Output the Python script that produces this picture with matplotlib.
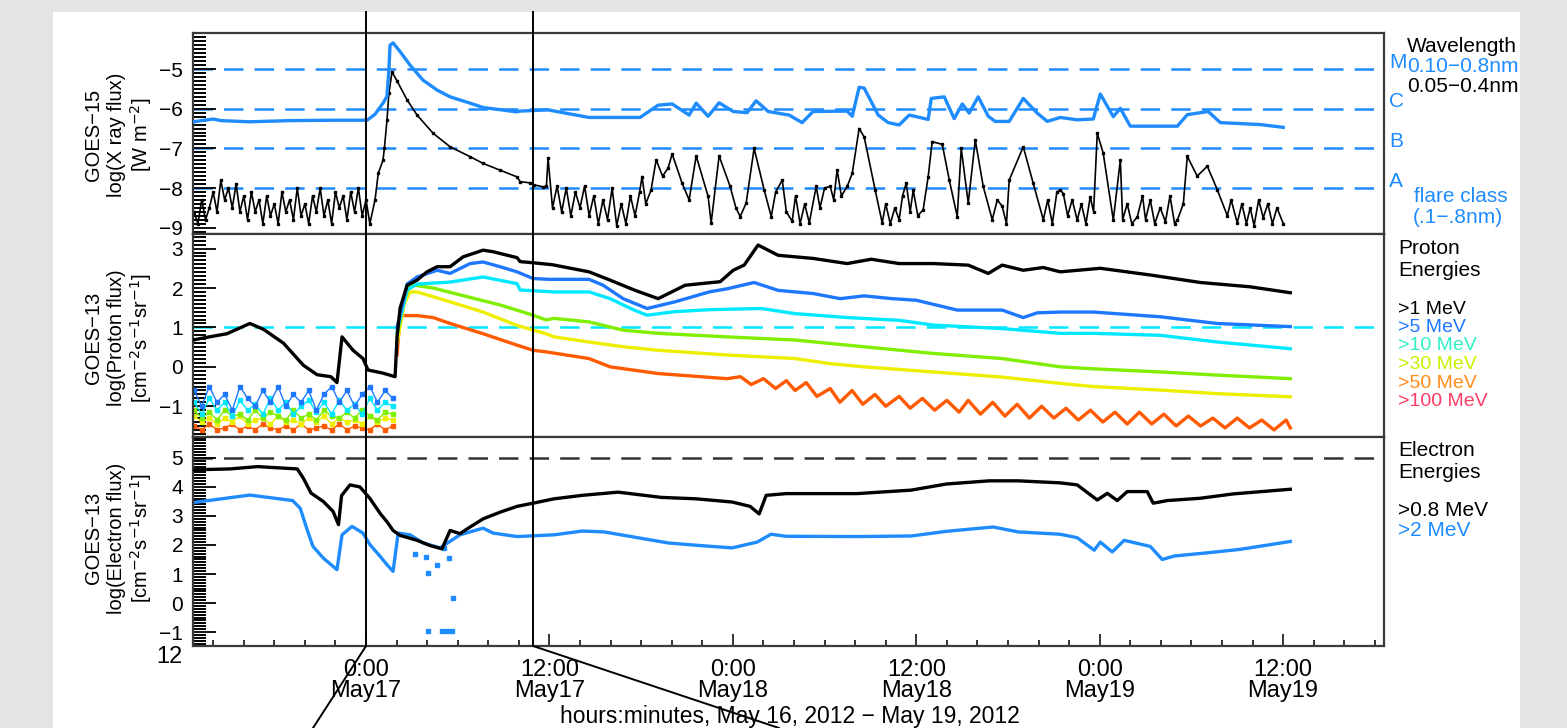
import matplotlib
matplotlib.use('Agg')
import matplotlib.pyplot as plt
from matplotlib.lines import Line2D
from matplotlib.patches import Rectangle
import matplotlib.transforms as mtransforms
from matplotlib.ticker import MultipleLocator, FixedLocator

plt.rcParams['font.family'] = ['Liberation Sans', 'DejaVu Sans']
plt.rcParams['lines.scale_dashes'] = False
plt.rcParams['axes.unicode_minus'] = True

# ---------------- data (time = hours since 2012-05-17 00:00 UT) ----------------
xray_long_t = [-11.32, -10.0, -9.5, -7.6, -5.0, -2.0, 0.07, 0.59, 1.11, 1.37, 1.5, 1.57, 1.77, 2.23, 2.88,
               3.73, 4.65, 5.50, 6.81, 7.66, 9.88, 10.08, 11.91, 14.59, 17.93, 19.11, 20.03, 21.14, 21.60,
               22.38, 23.10, 24.02, 24.93, 25.52, 26.31, 27.68, 28.53, 29.25, 31.48, 31.81, 32.26, 32.59,
               33.51, 34.16, 34.88, 35.54, 36.78, 36.98, 37.83, 38.48, 39.01, 39.46, 40.05, 40.71, 41.16,
               42.08, 43.00, 43.91, 44.57, 45.42, 46.53, 47.58, 48.04, 48.89, 49.35, 50.0, 53.08, 53.73,
               55.10, 55.89, 58.51, 60.01]
xray_long_v = [-6.33, -6.26, -6.30, -6.33, -6.30, -6.29, -6.29, -6.14, -5.86, -5.69, -5.00, -4.40, -4.34, -4.56,
               -4.90, -5.28, -5.53, -5.70, -5.86, -5.97, -6.08, -6.06, -6.03, -6.22, -6.22, -5.91, -5.88, -6.16,
               -5.86, -6.19, -5.85, -6.07, -6.10, -5.80, -6.07, -6.16, -6.35, -6.07, -6.06, -6.19, -5.46, -5.48,
               -6.16, -6.35, -6.41, -6.16, -6.27, -5.74, -5.70, -6.25, -5.88, -6.11, -5.70, -6.19, -6.32, -6.32,
               -5.74, -6.11, -6.32, -6.22, -6.28, -6.26, -5.63, -6.20, -5.99, -6.44, -6.44, -6.15, -6.07, -6.35,
               -6.40, -6.47]

xray_short_t = [-11.25, -11.0, -10.75, -10.5, -10.25, -10.0, -9.75, -9.5, -9.25, -9.0, -8.75, -8.5, -8.25,
                -8.0, -7.75, -7.5, -7.25, -7.0, -6.75, -6.5, -6.25, -6.0, -5.75, -5.5, -5.25, -5.0, -4.75,
                -4.5, -4.25, -4.0, -3.75, -3.5, -3.25, -3.0, -2.75, -2.5, -2.25, -2.0, -1.75, -1.5, -1.25,
                -1.0, -0.75, -0.5, -0.25, 0.0, 0.25,
                0.59, 0.8, 1.11, 1.2, 1.37, 1.5, 1.70, 2.03, 2.69, 3.34, 4.39, 5.50, 6.81, 7.66, 8.77, 9.88,
                10.08, 10.73, 10.99, 11.58, 11.8, 11.91, 12.2, 12.5, 12.8, 13.1, 13.4, 13.7, 14.0, 14.3, 14.6,
                14.9, 15.2, 15.5, 15.8, 16.1, 16.4, 16.7, 17.0, 17.3, 17.6, 17.9, 18.06, 18.3, 18.65, 18.98,
                19.4, 19.76, 20.03, 20.68, 21.14, 21.60, 22.38, 22.58, 23.10, 23.82, 24.2, 24.48, 24.87,
                25.39, 26.05, 26.51, 26.8, 27.23, 27.5, 27.88, 28.1, 28.4, 28.7, 29.0, 29.45, 29.7, 30.0,
                30.37, 30.6, 30.82, 31.1, 31.48, 31.81, 32.26, 32.59, 33.31, 33.77, 34.0, 34.3, 34.6, 34.88,
                35.1, 35.34, 35.6, 35.80, 36.1, 36.45, 36.78, 37.04, 37.70, 38.16, 38.68, 38.94, 39.40,
                39.86, 40.38, 40.97, 41.3, 41.62, 41.9, 42.08, 43.00, 43.65, 44.31, 44.6, 44.9, 45.2, 45.42,
                45.62, 45.9, 46.2, 46.53, 46.8, 47.1, 47.38, 47.6, 47.84, 48.23, 48.89, 49.35, 49.5, 49.8,
                50.1, 50.46, 50.8, 51.0, 51.31, 51.6, 51.96, 52.3, 52.6, 52.9, 53.08, 53.47, 53.73, 54.38,
                55.04, 55.69, 56.35, 56.6, 57.0, 57.3, 57.6, 57.85, 58.1, 58.4, 58.70, 59.0, 59.3, 59.6,
                60.01]
xray_short_v = [-8.6, -8.9, -8.3, -8.8, -8.5, -8.1, -8.6, -7.8, -8.3, -8.0, -8.5, -7.9, -8.6,
                -8.2, -8.8, -8.1, -8.6, -8.3, -8.9, -8.2, -8.7, -8.4, -8.9, -8.1, -8.6, -8.3, -8.8,
                -8.0, -8.7, -8.4, -8.9, -8.2, -8.6, -8.0, -8.7, -8.3, -8.9, -8.1, -8.5, -8.2, -8.8,
                -8.1, -8.6, -8.0, -8.7, -8.3, -8.9,
                -8.3, -7.63, -7.3, -7.0, -6.29, -5.6, -5.07, -5.3, -5.78, -6.16, -6.62, -6.96, -7.21, -7.38,
                -7.55, -7.72, -7.84, -7.87, -7.92, -7.97, -7.96, -7.25, -8.5, -7.95, -8.6, -8.0, -8.7, -8.1,
                -8.5, -7.95, -8.7, -8.2, -8.9, -8.3, -8.8, -8.0, -8.95, -8.4, -8.9, -8.2, -8.7, -8.1, -7.71,
                -8.4, -8.05, -7.29, -7.7, -7.5, -7.14, -7.88, -8.3, -7.19, -8.21, -8.88, -7.19, -7.96, -8.5,
                -8.72, -8.38, -7.0, -8.05, -8.72, -8.1, -7.8, -8.6, -8.84, -8.2, -8.9, -8.4, -8.88, -7.96,
                -8.5, -8.0, -7.96, -8.3, -7.54, -8.2, -7.96, -7.63, -6.5, -6.71, -8.05, -8.88, -8.4, -8.9,
                -8.5, -8.8, -8.2, -7.88, -8.6, -8.05, -8.7, -8.55, -7.71, -6.83, -6.9, -7.8, -8.72, -7.0,
                -8.38, -6.79, -7.96, -8.8, -8.3, -8.46, -8.9, -7.8, -6.96, -7.88, -8.8, -8.3, -8.9, -8.1,
                -8.05, -8.14, -8.7, -8.3, -8.81, -8.4, -8.9, -8.22, -8.6, -6.62, -7.12, -8.81, -7.29, -8.8,
                -8.4, -8.9, -8.73, -8.2, -8.8, -8.3, -8.9, -8.5, -8.85, -8.2, -8.9, -8.81, -8.4, -7.2, -7.7,
                -7.45, -8.04, -8.7, -8.3, -8.88, -8.4, -8.9, -8.5, -8.95, -8.3, -8.75, -8.4, -8.9, -8.5,
                -8.9]

p_pre_t = [-11.25, -10.75, -10.25, -9.75, -9.25, -8.75, -8.25, -7.75, -7.25, -6.75, -6.25, -5.75, -5.25,
           -4.75, -4.25, -3.75, -3.25, -2.75, -2.25, -1.75, -1.25, -0.75, -0.25, 0.25, 0.75, 1.25, 1.75]
p5_pre = [-0.6, -1.0, -0.5, -0.9, -0.7, -1.1, -0.5, -0.8, -1.0, -0.6, -0.9, -0.5, -1.0, -0.7, -0.9, -0.6,
          -1.1, -0.7, -0.5, -0.9, -0.6, -1.0, -0.7, -0.5, -0.9, -0.6, -0.8]
p10_pre = [-0.9, -1.2, -0.8, -1.1, -0.9, -1.25, -0.85, -1.1, -0.95, -1.2, -0.8, -1.1, -0.9, -1.2, -1.0,
           -0.85, -1.15, -0.9, -1.2, -0.85, -1.1, -0.95, -1.2, -0.8, -1.1, -0.9, -1.0]
p30_pre = [-1.1, -1.3, -1.15, -1.35, -1.1, -1.25, -1.2, -1.35, -1.1, -1.3, -1.15, -1.25, -1.35, -1.1,
           -1.3, -1.2, -1.35, -1.1, -1.25, -1.3, -1.15, -1.3, -1.1, -1.25, -1.35, -1.15, -1.2]
p50_pre = [-1.25, -1.4, -1.3, -1.45, -1.3, -1.4, -1.25, -1.45, -1.35, -1.3, -1.45, -1.25, -1.4, -1.35,
           -1.45, -1.3, -1.4, -1.25, -1.45, -1.3, -1.4, -1.35, -1.45, -1.25, -1.4, -1.3, -1.35]
p100_pre = [-1.5, -1.6, -1.45, -1.6, -1.55, -1.45, -1.6, -1.5, -1.6, -1.45, -1.55, -1.6, -1.5, -1.6,
            -1.45, -1.6, -1.55, -1.5, -1.6, -1.45, -1.6, -1.5, -1.55, -1.6, -1.45, -1.6, -1.5]

p1_t = [-11.32, -10.4, -9.1, -7.6, -6.7, -5.4, -4.1, -3.2, -2.3, -1.9, -1.57, -0.85, -0.2, 0.13, 1.11,
        1.90, 2.03, 2.23, 2.69, 3.34, 3.99, 4.65, 5.50, 6.35, 7.66, 8.31, 9.88, 10.08, 10.93, 12.2, 14.59,
        15.97, 17.54, 19.11, 20.88, 23.17, 24.02, 24.74, 25.65, 26.96, 29.25, 31.48, 33.05, 34.88, 37.11,
        39.40, 40.71, 41.62, 43.0, 44.3, 45.42, 48.04, 51.31, 54.58, 57.85, 60.47]
p1_v = [0.68, 0.75, 0.84, 1.10, 0.95, 0.60, 0.04, -0.20, -0.25, -0.40, 0.76, 0.42, 0.21, -0.08, -0.16,
        -0.25, 0.76, 1.49, 2.07, 2.20, 2.41, 2.54, 2.54, 2.79, 2.96, 2.92, 2.77, 2.67, 2.64, 2.59, 2.41,
        2.20, 1.95, 1.73, 2.07, 2.16, 2.45, 2.58, 3.09, 2.83, 2.75, 2.62, 2.73, 2.62, 2.62, 2.58, 2.37,
        2.58, 2.45, 2.52, 2.41, 2.50, 2.33, 2.14, 2.03, 1.88]

p5_t = [2.03, 2.69, 3.34, 4.65, 5.50, 6.81, 7.66, 8.77, 9.88, 10.93, 12.0, 14.59, 15.51, 16.82, 18.39,
        20.22, 22.45, 23.62, 25.39, 26.96, 29.25, 31.02, 32.59, 34.42, 35.99, 38.68, 41.62, 43.0, 43.91,
        45.42, 47.58, 51.96, 55.69, 60.47]
p5_v = [1.0, 2.1, 2.28, 2.45, 2.37, 2.62, 2.66, 2.54, 2.41, 2.24, 2.22, 2.22, 2.07, 1.73, 1.48, 1.65,
        1.90, 1.98, 2.14, 1.94, 1.86, 1.73, 1.80, 1.73, 1.69, 1.44, 1.44, 1.25, 1.37, 1.39, 1.39, 1.27,
        1.10, 1.02]

p10_t = [2.03, 2.69, 3.34, 5.50, 7.66, 9.88, 10.08, 12.3, 14.59, 15.97, 17.54, 18.39, 20.22, 22.45, 25.85,
         28.07, 31.48, 34.88, 37.11, 41.62, 45.42, 47.58, 51.96, 55.69, 60.47]
p10_v = [0.9, 1.95, 2.10, 2.15, 2.28, 2.11, 1.95, 1.90, 1.90, 1.73, 1.44, 1.31, 1.40, 1.45, 1.48, 1.35,
         1.25, 1.18, 1.06, 0.97, 0.85, 0.85, 0.80, 0.63, 0.46]

p30_t = [2.03, 2.5, 2.88, 3.34, 4.39, 6.61, 8.77, 10.93, 11.78, 12.3, 14.59, 16.82, 19.11, 23.62, 28.07,
         31.48, 37.11, 41.62, 45.42, 47.58, 51.96, 55.69, 60.47]
p30_v = [0.8, 1.7, 2.1, 2.06, 2.0, 1.78, 1.57, 1.31, 1.19, 1.23, 1.14, 0.93, 0.85, 0.76, 0.68, 0.55, 0.34,
         0.21, 0.0, -0.05, -0.13, -0.21, -0.30]

p50_t = [2.03, 2.5, 2.88, 3.34, 5.50, 7.66, 9.88, 11.78, 12.3, 14.59, 16.82, 19.11, 23.62, 28.07, 30.37,
         32.59, 37.11, 41.62, 45.42, 47.58, 51.96, 55.69, 60.47]
p50_v = [0.6, 1.6, 1.9, 1.9, 1.65, 1.39, 1.05, 0.84, 0.76, 0.63, 0.51, 0.42, 0.30, 0.21, 0.08, 0.0, -0.13,
         -0.26, -0.42, -0.50, -0.59, -0.68, -0.76]

p100_t = [2.03, 2.23, 3.34, 4.39, 5.50, 7.66, 9.88, 10.93, 11.78, 14.59, 15.97, 19.11, 23.62, 24.5, 25.2,
          26.0, 26.8, 27.5, 28.07, 28.8, 29.5, 30.37, 31.0, 31.8, 32.5, 33.3, 34.0, 34.88, 35.6, 36.4, 37.2,
          38.0, 38.8, 39.4, 40.2, 41.0, 41.8, 42.6, 43.4, 44.2, 45.0, 45.8, 46.6, 47.4, 48.2, 49.0, 49.8,
          50.6, 51.4, 52.2, 53.0, 53.8, 54.6, 55.4, 56.2, 57.0, 57.8, 58.6, 59.4, 60.2, 60.47]
p100_v = [0.3, 1.3, 1.3, 1.25, 1.1, 0.84, 0.55, 0.42, 0.38, 0.21, 0.0, -0.17, -0.30, -0.25, -0.45, -0.3,
          -0.55, -0.35, -0.6, -0.4, -0.75, -0.55, -0.9, -0.6, -0.95, -0.7, -1.0, -0.75, -1.05, -0.8, -1.1,
          -0.85, -1.15, -0.85, -1.2, -0.9, -1.25, -0.95, -1.3, -1.0, -1.3, -1.05, -1.35, -1.1, -1.4, -1.15,
          -1.45, -1.15, -1.45, -1.2, -1.5, -1.25, -1.5, -1.3, -1.55, -1.3, -1.55, -1.35, -1.6, -1.35, -1.55]

e08_t = [-11.32, -8.9, -7.1, -4.5, -4.1, -3.6, -2.8, -2.16, -1.8, -1.6, -1.05, -0.4, 0.26, 0.92, 1.37, 1.77,
         2.23, 3.34, 4.19, 4.97, 5.50, 6.15, 6.81, 7.66, 8.77, 9.88, 10.93, 12.3, 14.14, 16.49, 19.31, 21.6,
         23.95, 25.13, 25.72, 26.18, 27.49, 32.13, 35.67, 37.96, 40.77, 42.67, 45.42, 46.53, 47.84, 48.5,
         49.15, 49.80, 51.11, 51.5, 52.42, 54.58, 56.74, 60.47]
e08_v = [4.59, 4.62, 4.70, 4.62, 4.30, 3.79, 3.50, 3.16, 2.70, 3.70, 4.07, 4.00, 3.60, 3.09, 2.80, 2.50,
         2.33, 2.16, 1.98, 1.87, 2.50, 2.39, 2.62, 2.90, 3.13, 3.33, 3.44, 3.59, 3.71, 3.82, 3.64, 3.59,
         3.48, 3.33, 3.07, 3.71, 3.77, 3.77, 3.89, 4.10, 4.21, 4.21, 4.14, 4.07, 3.55, 3.78, 3.53, 3.84,
         3.84, 3.44, 3.53, 3.61, 3.76, 3.92]

e2_t = [-11.32, -7.6, -4.8, -4.3, -3.85, -3.47, -2.8, -1.9, -1.57, -0.92, -0.2, 0.26, 0.92, 1.37, 1.77, 2.1,
        2.88, 3.73, 4.84, 6.15, 7.66, 8.31, 9.88, 12.3, 14.14, 15.58, 17.67, 19.77, 21.86, 23.95, 25.59,
        26.5, 27.49, 32.13, 35.67, 37.96, 41.03, 42.67, 45.42, 46.53, 47.64, 48.04, 48.82, 49.6, 51.31,
        52.09, 52.88, 55.04, 57.2, 60.47]
e2_v = [3.46, 3.72, 3.53, 3.26, 2.52, 1.95, 1.55, 1.15, 2.35, 2.64, 2.41, 2.01, 1.61, 1.32, 1.09, 2.41,
        2.35, 2.07, 1.90, 2.35, 2.58, 2.41, 2.29, 2.35, 2.48, 2.45, 2.26, 2.07, 1.98, 1.90, 2.10, 2.37,
        2.30, 2.29, 2.31, 2.47, 2.62, 2.45, 2.37, 2.25, 1.82, 2.10, 1.76, 2.16, 1.95, 1.50, 1.62, 1.73,
        1.85, 2.12]
e2_dots_t = [3.9, 4.06, 4.65, 5.1, 5.7, 4.06, 5.0, 5.3, 5.6, 3.2, 5.4]
e2_dots_v = [1.6, 1.03, 1.31, 1.9, 0.17, -0.95, -0.95, -0.95, -0.95, 1.7, 1.55]

flare_levels = [-5, -6, -7, -8]
flare_classes = ['M', 'C', 'B', 'A']
proton_labels = ['>1 MeV', '>5 MeV', '>10 MeV', '>30 MeV', '>50 MeV', '>100 MeV']
electron_labels = ['>0.8 MeV', '>2 MeV']
xtick_pos = [0, 12, 24, 36, 48, 60]
xtick_labels = ['0:00\nMay17', '12:00\nMay17', '0:00\nMay18', '12:00\nMay18', '0:00\nMay19', '12:00\nMay19']
marker_times = [0.0, 10.93]

# ---------------- styling ----------------
W, H = 1567, 728
XLIM = (-11.32, 66.6)
C_XB = '#1e8cff'
C_P = ['black', '#1e78ff', '#00e8ff', '#80ee00', '#eeee00', '#ff5a00']
C_PLEG = ['black', '#1e78ff', '#30f0c8', '#c8f000', '#ff8c1a', '#ff3c64']
FS_TICK = 15
FS_LEG = 15

fig = plt.figure(figsize=(W / 100, H / 100), dpi=100)
fig.patch.set_facecolor('#e4e4e4')
fig.add_artist(Rectangle((53 / W, 0), (1520 - 53) / W, (728 - 12) / H, transform=fig.transFigure,
                         facecolor='white', edgecolor='none', zorder=-10))


def px_axes(top, bottom):
    return fig.add_axes([193 / W, 1 - bottom / H, (1384 - 193) / W, (bottom - top) / H])


ax1 = px_axes(33, 234)
ax2 = px_axes(234, 437)
ax3 = px_axes(437, 646)

for ax, yl in ((ax1, (-9.16, -4.09)), (ax2, (-1.78, 3.37)), (ax3, (-1.48, 5.72))):
    ax.set_xlim(*XLIM)
    ax.set_ylim(*yl)
    for s in ax.spines.values():
        s.set_color('#3a3a3a')
        s.set_linewidth(1.6)
    ax.yaxis.set_major_locator(MultipleLocator(1))
    ax.yaxis.set_minor_locator(MultipleLocator(0.1))
    ax.tick_params(axis='y', which='major', direction='in', length=16.5, width=1.3,
                   labelsize=FS_TICK, pad=7, right=False)
    ax.tick_params(axis='y', which='minor', direction='in', length=9.4, width=1.4, right=False)
    ax.tick_params(axis='x', which='both', bottom=False, top=False, labelbottom=False)
    ax.set_facecolor('white')

# ---- X-ray panel ----
for lv in flare_levels:
    ax1.axhline(lv, color=C_XB, lw=1.8, dashes=(14, 8), zorder=1)
ax1.plot(xray_short_t, xray_short_v, color='black', lw=1.2, marker='s', ms=1.6, zorder=2)
ax1.plot(xray_long_t, xray_long_v, color=C_XB, lw=2.4, zorder=3)
trans1 = mtransforms.blended_transform_factory(ax1.transAxes, ax1.transData)
for lv, cl in zip(flare_levels, flare_classes):
    ax1.text(1.004, lv + 0.17, cl, transform=trans1, color=C_XB, fontsize=FS_LEG, va='center', ha='left')

# ---- proton panel ----
ax2.axhline(1, color=C_P[2], lw=1.8, dashes=(14, 8), zorder=1)
pre_sets = [p5_pre, p10_pre, p30_pre, p50_pre, p100_pre]
post_sets = [(p100_t, p100_v), (p50_t, p50_v), (p30_t, p30_v), (p10_t, p10_v), (p5_t, p5_v)]
for vals, c in zip(pre_sets[::-1], C_P[1:][::-1]):
    ax2.plot(p_pre_t, vals, color=c, lw=1.0, marker='s', ms=2.2, zorder=2)
for (tt, vv), c in zip(post_sets, C_P[1:][::-1]):
    ax2.plot(tt, vv, color=c, lw=2.4, zorder=3)
ax2.plot(p1_t, p1_v, color='black', lw=2.4, zorder=4)

# ---- electron panel ----
ax3.axhline(5, color='#333333', lw=1.8, dashes=(14, 8), zorder=1)
ax3.plot(e08_t, e08_v, color='black', lw=2.4, zorder=3)
ax3.plot(e2_t, e2_v, color=C_XB, lw=2.4, zorder=2)
ax3.plot(e2_dots_t, e2_dots_v, ls='none', marker='s', ms=2.5, color=C_XB, zorder=2)
ax3.xaxis.set_major_locator(FixedLocator(xtick_pos))
ax3.set_xticklabels(xtick_labels)
ax3.xaxis.set_minor_locator(MultipleLocator(2))
ax3.tick_params(axis='x', which='major', bottom=True, direction='in', length=8.6, width=1.1,
                labelbottom=True, labelsize=FS_TICK + 2, pad=9)
ax3.tick_params(axis='x', which='minor', bottom=True, direction='in', length=4.3, width=1.1)
for lab in ax3.get_xticklabels():
    lab.set_linespacing(1.0)

# ---- y-axis labels (three rotated lines each) ----
def ylab(lines, yc):
    for xpx, txt in zip((94, 117, 141), lines):
        fig.text(xpx / W, 1 - yc / H, txt, rotation=90, ha='center', va='center', fontsize=14.5)

ylab(['GOES\u221215', 'log(X ray flux)', '[W m$^{-2}$]'], 135)
ylab(['GOES\u221213', 'log(Proton flux)', '[cm$^{-2}$s$^{-1}$sr$^{-1}$]'], 338)
ylab(['GOES\u221213', 'log(Electron flux)', '[cm$^{-2}$s$^{-1}$sr$^{-1}$]'], 538)

def ftext(xpx, ypx, s, color='black', ha='left', fs=FS_LEG):
    fig.text(xpx / W, 1 - ypx / H, s, color=color, ha=ha, va='center', fontsize=fs)

ftext(1407, 47, 'Wavelength')
ftext(1407, 67, '0.10\u22120.8nm', color=C_XB)
ftext(1407, 87, '0.05\u22120.4nm')
ftext(1414, 197, 'flare class', color=C_XB)
ftext(1413, 217, '(.1\u2212.8nm)', color=C_XB)
ftext(1398, 249, 'Proton')
ftext(1398, 271, 'Energies')
for i, (lab, c) in enumerate(zip(proton_labels, C_PLEG)):
    ftext(1398, 309 + 18.5 * i, lab, color=c, fs=14)
ftext(1398, 450, 'Electron')
ftext(1398, 472, 'Energies')
for i, (lab, c) in enumerate(zip(electron_labels, ['black', C_XB])):
    ftext(1398, 511 + 19.5 * i, lab, color=c)
ftext(183, 657, '12', ha='right', fs=FS_TICK + 2)
fig.text(790 / W, 1 - 727.5 / H, 'hours:minutes, May 16, 2012 \u2212 May 19, 2012', ha='center',
         va='bottom', fontsize=16.5)

# ---- event marker lines and zoom connectors ----
blend = mtransforms.blended_transform_factory(ax3.transData, fig.transFigure)
for tm in marker_times:
    fig.add_artist(Line2D([tm, tm], [1 - 12 / H, 1 - 646 / H], transform=blend, color='black', lw=1.4,
                          zorder=20))
inv = fig.transFigure.inverted()
x0 = inv.transform(ax3.transData.transform((marker_times[0], 0)))[0]
x1 = inv.transform(ax3.transData.transform((marker_times[1], 0)))[0]
yb = 1 - 646 / H
fig.add_artist(Line2D([x0, 313 / W], [yb, 0], transform=fig.transFigure, color='black', lw=1.4, zorder=20))
fig.add_artist(Line2D([x1, 779 / W], [yb, 0], transform=fig.transFigure, color='black', lw=1.4, zorder=20))

fig.savefig('out.png', dpi=100, facecolor=fig.get_facecolor())
